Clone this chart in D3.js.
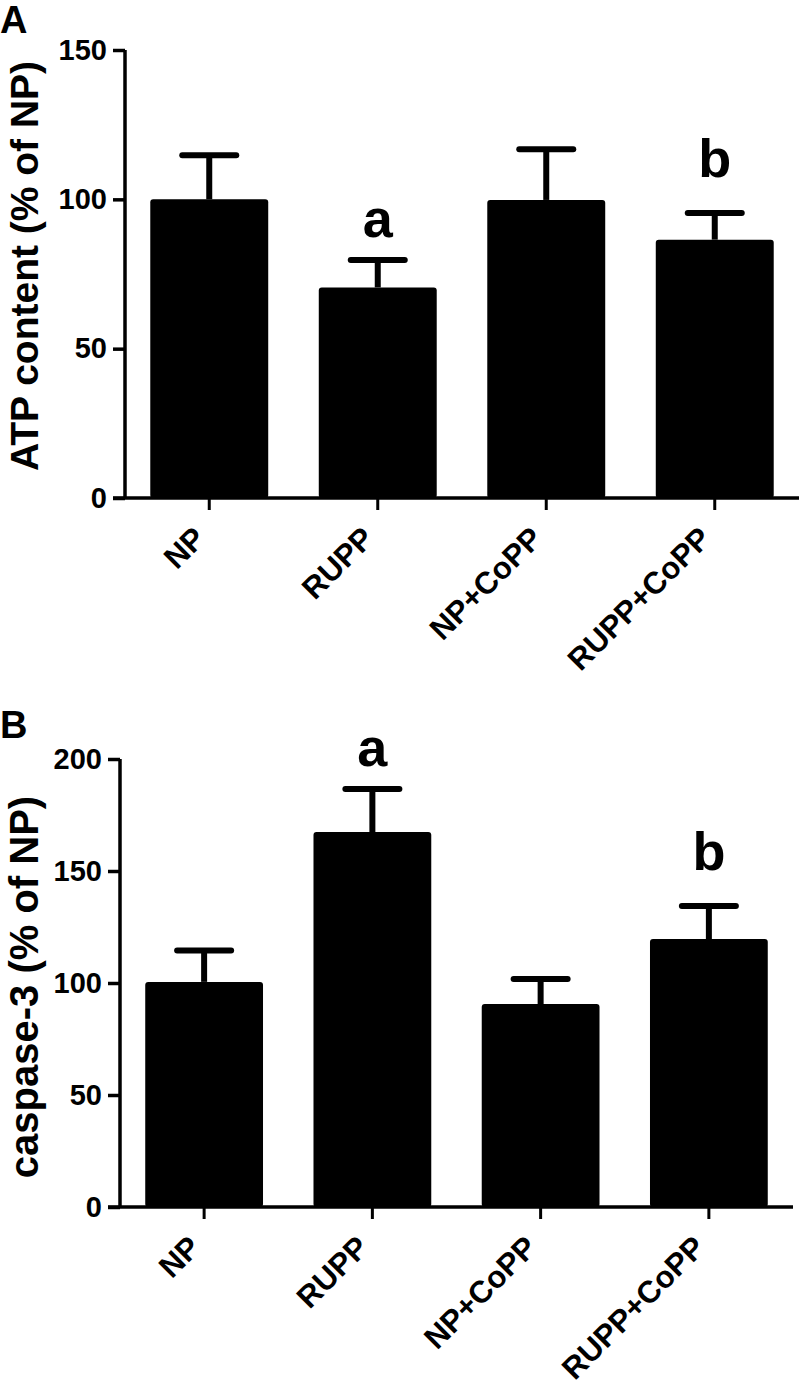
<!DOCTYPE html>
<html>
<head>
<meta charset="utf-8">
<script src="https://cdn.jsdelivr.net/npm/d3@7"></script>
<style>
  html, body { margin: 0; padding: 0; background: #fff; }
  svg { display: block; }
  text { font-family: "Liberation Sans", Arial, Helvetica, sans-serif; font-weight: bold; fill: #000; }
</style>
</head>
<body>
<svg id="chart" width="800" height="1397"></svg>
<script>
// ---- data ----
const categories = ["NP", "RUPP", "NP+CoPP", "RUPP+CoPP"];

const atpMean = [100, 70.5, 99.8, 86.5];
const atpSem  = [14.8, 9.2, 17.0, 8.9];
const atpTicks = [0, 50, 100, 150];
const atpLetters = ["", "a", "", "b"];

const caspMean = [100.5, 167.4, 90.6, 119.6];
const caspSem  = [14.0, 19.2, 11.2, 14.8];
const caspTicks = [0, 50, 100, 150, 200];
const caspLetters = ["", "a", "", "b"];

const panelLabels = ["A", "B"];
const yTitles = ["ATP content (% of NP)", "caspase-3 (% of NP)"];

// ---- drawing ----
const svg = d3.select("#chart");

function drawPanel(opt) {
  const g = svg.append("g");
  const x = d3.scaleBand().domain(categories).range([opt.x0, opt.x1]).paddingInner(0.3).paddingOuter(0.15);
  const y = d3.scaleLinear().domain([0, opt.yMax]).range([opt.yBottom, opt.yTop]);
  const data = categories.map((c, i) => ({ c, m: opt.mean[i], e: opt.sem[i], l: opt.letters[i] }));

  // bars
  g.selectAll("rect.bar").data(data).enter().append("rect")
    .attr("class", "bar")
    .attr("x", d => x(d.c))
    .attr("width", x.bandwidth())
    .attr("y", d => y(d.m))
    .attr("height", d => y(0) - y(d.m))
    .attr("rx", 3)
    .attr("fill", "#000");

  // error bars
  const eb = g.selectAll("g.err").data(data).enter().append("g").attr("class", "err");
  eb.append("line")
    .attr("x1", d => x(d.c) + x.bandwidth() / 2)
    .attr("x2", d => x(d.c) + x.bandwidth() / 2)
    .attr("y1", d => y(d.m))
    .attr("y2", d => y(d.m + d.e))
    .attr("stroke", "#000").attr("stroke-width", 6);
  eb.append("line")
    .attr("x1", d => x(d.c) + x.bandwidth() / 2 - 27)
    .attr("x2", d => x(d.c) + x.bandwidth() / 2 + 27)
    .attr("y1", d => y(d.m + d.e))
    .attr("y2", d => y(d.m + d.e))
    .attr("stroke", "#000").attr("stroke-width", 6).attr("stroke-linecap", "round");

  // significance letters
  g.selectAll("text.sig").data(data.filter(d => d.l)).enter().append("text")
    .attr("class", "sig")
    .attr("x", d => x(d.c) + x.bandwidth() / 2)
    .attr("y", d => y(d.m + d.e) - (d.l === "b" ? 36 : 23))
    .attr("text-anchor", "middle")
    .style("font-size", "54px")
    .text(d => d.l);

  // y axis
  const yAxis = d3.axisLeft(y).tickValues(opt.ticks).tickSize(12).tickPadding(6);
  const ya = g.append("g").attr("transform", `translate(${opt.x0},0)`).call(yAxis);
  ya.select(".domain").remove();
  ya.append("line").attr("x1", 0).attr("x2", 0).attr("y1", opt.yTop).attr("y2", opt.yBottom)
    .attr("stroke", "#000").attr("stroke-width", 3.5);
  ya.selectAll(".tick line").attr("stroke", "#000").attr("stroke-width", 3.5);
  ya.selectAll(".tick text").style("font-size", "29px").attr("fill", "#000");

  // x axis
  const xAxis = d3.axisBottom(x).tickSize(12).tickFormat("");
  const xa = g.append("g").attr("transform", `translate(0,${opt.yBottom})`).call(xAxis);
  xa.select(".domain").remove();
  xa.append("line").attr("x1", opt.x0 - 12).attr("x2", opt.x1).attr("y1", 0).attr("y2", 0)
    .attr("stroke", "#000").attr("stroke-width", 3.5);
  xa.selectAll(".tick line").attr("stroke", "#000").attr("stroke-width", 3);

  // rotated category labels
  g.selectAll("text.cat").data(categories).enter().append("text")
    .attr("class", "cat")
    .attr("transform", c => `translate(${x(c) + x.bandwidth() / 2 - 2},${opt.yBottom + 42}) rotate(-45)`)
    .attr("text-anchor", "end")
    .style("font-size", "31px")
    .text(c => c);

  // y title
  g.append("text")
    .attr("transform", `translate(${opt.titleX},${opt.titleY}) rotate(-90)`)
    .attr("text-anchor", "middle")
    .style("font-size", opt.titleSize + "px")
    .text(opt.title);

  // panel letter
  g.append("text").attr("x", 0).attr("y", opt.letterY)
    .style("font-size", "38px").text(opt.panel);
}

drawPanel({
  mean: atpMean, sem: atpSem, ticks: atpTicks, letters: atpLetters, yMax: 150,
  x0: 125, x1: 799, yTop: 50, yBottom: 498, title: yTitles[0], titleX: 38, titleY: 266, titleSize: 39,
  panel: panelLabels[0], letterY: 33
});
drawPanel({
  mean: caspMean, sem: caspSem, ticks: caspTicks, letters: caspLetters, yMax: 200,
  x0: 120, x1: 793, yTop: 759, yBottom: 1207, title: yTitles[1], titleX: 38, titleY: 987, titleSize: 40,
  panel: panelLabels[1], letterY: 738
});
</script>
</body>
</html>
